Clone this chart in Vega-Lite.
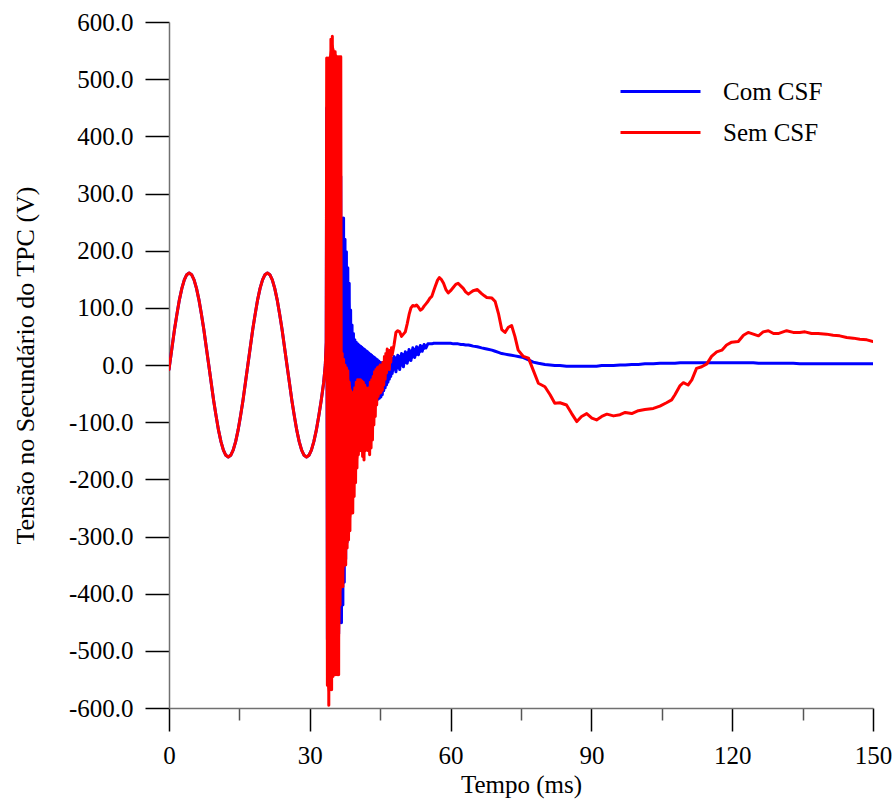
{
  "$schema": "https://vega.github.io/schema/vega-lite/v6.json",
  "autosize": {"type": "none"},
  "padding": {"left": 169, "top": 22, "right": 22, "bottom": 92},
  "width": 704,
  "height": 686,
  "background": "white",
  "config": {
    "view": {"stroke": null},
    "font": "Liberation Serif",
    "axis": {"labelFont": "Liberation Serif", "titleFont": "Liberation Serif", "labelFontSize": 25, "titleFontSize": 25, "titleFontWeight": "normal", "labelColor": "#000", "titleColor": "#000", "domainColor": "#707070", "domainWidth": 1.5, "tickWidth": 1.5, "grid": false, "labelPadding": 12},
    "legend": {"labelFont": "Liberation Serif"}
  },
  "datasets": {
    "curves": [
    {"t":0,"com":-8,"sem":-8},{"t":0.13,"com":0,"sem":0},{"t":0.65,"com":31,"sem":31},{"t":1.17,"com":62,"sem":62},{"t":1.69,"com":89,"sem":89},{"t":2.21,"com":114,"sem":114},{"t":2.74,"com":134,"sem":134},{"t":3.26,"com":149,"sem":149},{"t":3.78,"com":158,"sem":158},{"t":4.3,"com":161,"sem":161},{"t":4.82,"com":158,"sem":158},{"t":5.34,"com":149,"sem":149},{"t":5.86,"com":134,"sem":134},{"t":6.38,"com":114,"sem":114},{"t":6.9,"com":89,"sem":89},{"t":7.42,"com":62,"sem":62},{"t":7.94,"com":31,"sem":31},{"t":8.47,"com":0,"sem":0},{"t":8.99,"com":-31,"sem":-31},{"t":9.51,"com":-62,"sem":-62},{"t":10.03,"com":-89,"sem":-89},{"t":10.55,"com":-114,"sem":-114},{"t":11.07,"com":-134,"sem":-134},{"t":11.59,"com":-149,"sem":-149},{"t":12.11,"com":-158,"sem":-158},{"t":12.63,"com":-161,"sem":-161},{"t":13.15,"com":-158,"sem":-158},{"t":13.67,"com":-149,"sem":-149},{"t":14.2,"com":-134,"sem":-134},{"t":14.72,"com":-114,"sem":-114},{"t":15.24,"com":-89,"sem":-89},{"t":15.76,"com":-62,"sem":-62},{"t":16.28,"com":-31,"sem":-31},{"t":16.8,"com":0,"sem":0},{"t":17.32,"com":31,"sem":31},{"t":17.84,"com":62,"sem":62},{"t":18.36,"com":89,"sem":89},{"t":18.88,"com":114,"sem":114},{"t":19.4,"com":134,"sem":134},{"t":19.93,"com":149,"sem":149},{"t":20.45,"com":158,"sem":158},{"t":20.97,"com":161,"sem":161},{"t":21.49,"com":158,"sem":158},{"t":22.01,"com":149,"sem":149},{"t":22.53,"com":134,"sem":134},{"t":23.05,"com":114,"sem":114},{"t":23.57,"com":89,"sem":89},{"t":24.09,"com":62,"sem":62},{"t":24.61,"com":31,"sem":31},{"t":25.13,"com":0,"sem":0},{"t":25.66,"com":-31,"sem":-31},{"t":26.18,"com":-62,"sem":-62},{"t":26.7,"com":-89,"sem":-89},{"t":27.22,"com":-114,"sem":-114},{"t":27.74,"com":-134,"sem":-134},{"t":28.26,"com":-149,"sem":-149},{"t":28.78,"com":-158,"sem":-158},{"t":29.3,"com":-161,"sem":-161},{"t":29.82,"com":-158,"sem":-158},{"t":30.34,"com":-149,"sem":-149},{"t":30.86,"com":-134,"sem":-134},{"t":31.39,"com":-114,"sem":-114},{"t":31.91,"com":-89,"sem":-89},{"t":32.43,"com":-62,"sem":-62},{"t":32.95,"com":-31,"sem":-31},{"t":33.3,"com":0,"sem":0},{"t":33.5,"com":40,"sem":40},
    {"t":33.6,"com":450,"sem":537},{"t":33.75,"com":-480,"sem":-560},{"t":33.9,"com":450,"sem":537},{"t":34.05,"com":-500,"sem":-595},{"t":34.2,"com":450,"sem":537},{"t":34.35,"com":-490,"sem":-568},{"t":34.5,"com":460,"sem":570},{"t":34.65,"com":-490,"sem":-568},{"t":34.8,"com":460,"sem":575},{"t":34.95,"com":-480,"sem":-545},{"t":35.1,"com":450,"sem":548},{"t":35.25,"com":-480,"sem":-542},{"t":35.4,"com":450,"sem":548},{"t":35.55,"com":-480,"sem":-542},{"t":35.7,"com":440,"sem":539},{"t":35.85,"com":-470,"sem":-542},{"t":36.0,"com":420,"sem":539},{"t":36.15,"com":-470,"sem":-542},{"t":36.3,"com":380,"sem":539},{"t":36.45,"com":-451,"sem":-420},{"t":36.6,"com":330,"sem":539},{"t":36.75,"com":-451,"sem":-388},
    {"t":36.9,"com":257,"sem":20},{"t":37.05,"com":-420,"sem":-388},{"t":37.2,"com":257,"sem":10},{"t":37.35,"com":-380,"sem":-350},{"t":37.5,"com":220,"sem":0},{"t":37.65,"com":-340,"sem":-350},{"t":37.8,"com":198,"sem":-5},{"t":37.95,"com":-310,"sem":-320},{"t":38.1,"com":170,"sem":-10},{"t":38.25,"com":-290,"sem":-306},{"t":38.4,"com":143,"sem":-30},{"t":38.55,"com":-250,"sem":-290},{"t":38.7,"com":96,"sem":-45},{"t":38.85,"com":-200,"sem":-259},{"t":39.0,"com":70,"sem":-49},{"t":39.15,"com":-160,"sem":-259},{"t":39.3,"com":55,"sem":-50},{"t":39.45,"com":-130,"sem":-230},{"t":39.6,"com":44,"sem":-40},{"t":39.75,"com":-105,"sem":-206},{"t":39.9,"com":40,"sem":-30},{"t":40.05,"com":-99,"sem":-180},{"t":40.2,"com":37,"sem":-26},{"t":40.35,"com":-96,"sem":-157},{"t":40.5,"com":35,"sem":-26},{"t":40.65,"com":-100,"sem":-150},{"t":40.8,"com":33,"sem":-26},{"t":40.95,"com":-110,"sem":-150},{"t":41.1,"com":31,"sem":-28},{"t":41.25,"com":-125,"sem":-160},{"t":41.4,"com":29,"sem":-30},{"t":41.55,"com":-143,"sem":-166},{"t":41.7,"com":27,"sem":-35},{"t":41.85,"com":-140,"sem":-150},{"t":42.0,"com":25,"sem":-40},{"t":42.15,"com":-120,"sem":-137},{"t":42.3,"com":23,"sem":-45},{"t":42.45,"com":-105,"sem":-150},{"t":42.6,"com":21,"sem":-40},{"t":42.75,"com":-95,"sem":-157},{"t":42.9,"com":19,"sem":-30},{"t":43.05,"com":-88,"sem":-145},{"t":43.2,"com":17,"sem":-26},{"t":43.35,"com":-80,"sem":-131},{"t":43.5,"com":15,"sem":-20},{"t":43.65,"com":-72,"sem":-105},{"t":43.8,"com":13,"sem":-12},{"t":43.95,"com":-66,"sem":-90},{"t":44.1,"com":11,"sem":-8},{"t":44.25,"com":-62,"sem":-70},{"t":44.4,"com":9,"sem":-5},{"t":44.55,"com":-60,"sem":-55},{"t":44.7,"com":7,"sem":-3},{"t":44.85,"com":-58,"sem":-50},{"t":45.0,"com":5,"sem":0},{"t":45.15,"com":-56,"sem":-48},{"t":45.3,"com":4,"sem":0},{"t":45.45,"com":-52,"sem":-44},{"t":45.6,"com":4,"sem":5},{"t":45.75,"com":-45,"sem":-35},{"t":45.9,"com":5,"sem":15},{"t":46.05,"com":-40,"sem":-25},{"t":46.2,"com":6,"sem":20},{"t":46.35,"com":-35,"sem":-14},{"t":46.5,"com":7,"sem":28},{"t":46.65,"com":-30,"sem":-5},{"t":46.8,"com":9,"sem":22},{"t":46.95,"com":-25,"sem":-8},{"t":47.1,"com":10,"sem":26},{"t":47.25,"com":-20,"sem":5},{"t":47.4,"com":12,"sem":30},{"t":47.55,"com":-15,"sem":18},
    {"t":47.95,"com":15,"sem":35},{"t":48.35,"com":-12,"sem":57},{"t":48.75,"com":17,"sem":60},{"t":49.15,"com":-8,"sem":58},{"t":49.55,"com":20,"sem":50},{"t":49.95,"com":-3,"sem":54},{"t":50.35,"com":23,"sem":58},{"t":50.75,"com":3,"sem":72},{"t":51.15,"com":27,"sem":88},{"t":51.55,"com":8,"sem":100},{"t":51.95,"com":30,"sem":104},{"t":52.35,"com":13,"sem":103},{"t":52.75,"com":32,"sem":105},{"t":53.15,"com":18,"sem":101},{"t":53.55,"com":34,"sem":96},{"t":53.95,"com":24,"sem":98},{"t":54.35,"com":36,"sem":103},{"t":54.75,"com":30,"sem":107},{"t":55.15,"com":37,"sem":111},
    {"t":55.6,"com":37,"sem":117},{"t":56.0,"com":37,"sem":120},{"t":56.4,"com":38,"sem":130},{"t":56.7,"com":38,"sem":137},{"t":57.2,"com":38,"sem":148},{"t":57.6,"com":38,"sem":153},{"t":58.0,"com":38,"sem":150},{"t":58.5,"com":38,"sem":143},{"t":59.0,"com":38,"sem":132},{"t":59.5,"com":38,"sem":126},{"t":60.0,"com":38,"sem":130},{"t":60.6,"com":37,"sem":136},{"t":61.1,"com":37,"sem":141},{"t":61.6,"com":37,"sem":143},{"t":62.2,"com":36,"sem":138},{"t":62.7,"com":36,"sem":134},{"t":63.2,"com":35,"sem":128},{"t":63.8,"com":35,"sem":124},{"t":64.3,"com":34,"sem":127},{"t":64.8,"com":33,"sem":130},{"t":65.7,"com":32,"sem":132},{"t":66.6,"com":30,"sem":125},{"t":67.2,"com":29,"sem":121},{"t":67.7,"com":28,"sem":118},{"t":68.8,"com":26,"sem":117},{"t":69.5,"com":24,"sem":111},{"t":70.2,"com":22,"sem":90},{"t":70.9,"com":20,"sem":62},{"t":71.6,"com":19,"sem":57},{"t":72.3,"com":18,"sem":66},{"t":73.0,"com":17,"sem":69},{"t":73.7,"com":16,"sem":50},{"t":74.4,"com":15,"sem":26},{"t":75.5,"com":13,"sem":15},{"t":76.6,"com":9,"sem":12},{"t":77.6,"com":5,"sem":-9},{"t":78.7,"com":3,"sem":-32},{"t":80.1,"com":1,"sem":-38},{"t":81.2,"com":0,"sem":-52},{"t":82.2,"com":-1,"sem":-67},{"t":83.3,"com":-1,"sem":-66},{"t":84.7,"com":-2,"sem":-70},{"t":85.8,"com":-2,"sem":-85},{"t":86.9,"com":-2,"sem":-99},{"t":87.9,"com":-2,"sem":-90},{"t":89.0,"com":-2,"sem":-85},{"t":90.1,"com":-2,"sem":-93},{"t":91.1,"com":-2,"sem":-96},{"t":92.2,"com":-1,"sem":-90},{"t":93.3,"com":-1,"sem":-86},{"t":94.7,"com":-1,"sem":-89},{"t":96.1,"com":0,"sem":-87},{"t":97.2,"com":0,"sem":-83},{"t":98.6,"com":1,"sem":-85},{"t":100.0,"com":1,"sem":-80},{"t":101.4,"com":2,"sem":-78},{"t":103.2,"com":2,"sem":-76},{"t":104.6,"com":3,"sem":-72},{"t":106.0,"com":3,"sem":-66},{"t":107.1,"com":3,"sem":-61},{"t":107.8,"com":3,"sem":-52},{"t":108.9,"com":4,"sem":-36},{"t":109.6,"com":4,"sem":-31},{"t":110.6,"com":4,"sem":-35},{"t":111.4,"com":4,"sem":-26},{"t":112.4,"com":4,"sem":-6},{"t":113.5,"com":4,"sem":-3},{"t":114.6,"com":4,"sem":2},{"t":115.6,"com":4,"sem":15},{"t":116.7,"com":4,"sem":23},{"t":117.8,"com":4,"sem":26},{"t":118.8,"com":4,"sem":35},{"t":119.9,"com":4,"sem":40},{"t":121.3,"com":4,"sem":41},{"t":122.4,"com":4,"sem":52},{"t":123.4,"com":4,"sem":57},{"t":124.5,"com":4,"sem":54},{"t":125.6,"com":3,"sem":51},{"t":126.6,"com":3,"sem":58},{"t":127.7,"com":3,"sem":60},{"t":128.8,"com":3,"sem":55},{"t":129.8,"com":3,"sem":55},{"t":131.6,"com":3,"sem":60},{"t":133.0,"com":3,"sem":57},{"t":134.4,"com":2,"sem":57},{"t":135.5,"com":2,"sem":58},{"t":136.9,"com":2,"sem":55},{"t":138.3,"com":2,"sem":55},{"t":140.1,"com":2,"sem":54},{"t":141.5,"com":2,"sem":52},{"t":142.9,"com":2,"sem":51},{"t":144.4,"com":2,"sem":48},{"t":145.8,"com":2,"sem":47},{"t":147.2,"com":2,"sem":45},{"t":148.7,"com":2,"sem":44},{"t":150.0,"com":2,"sem":41}
    ],
    "bandCom": [
      {"t":33.6,"lo":-470,"hi":440},{"t":34.5,"lo":-480,"hi":450},{"t":35.5,"lo":-470,"hi":440},{"t":36.3,"lo":-450,"hi":370},{"t":36.6,"lo":-440,"hi":320},{"t":36.9,"lo":-410,"hi":250},{"t":37.2,"lo":-370,"hi":240},{"t":37.5,"lo":-330,"hi":210},{"t":37.8,"lo":-300,"hi":190},{"t":38.1,"lo":-280,"hi":160},{"t":38.4,"lo":-240,"hi":135},{"t":38.7,"lo":-195,"hi":90},{"t":39.0,"lo":-155,"hi":65},{"t":39.3,"lo":-125,"hi":50},{"t":39.6,"lo":-100,"hi":42},{"t":40.0,"lo":-95,"hi":37},{"t":40.5,"lo":-95,"hi":34},{"t":41.0,"lo":-108,"hi":31},{"t":41.5,"lo":-138,"hi":28},{"t":42.0,"lo":-118,"hi":24},{"t":42.5,"lo":-100,"hi":21},{"t":43.0,"lo":-86,"hi":18},{"t":43.5,"lo":-72,"hi":15},{"t":44.0,"lo":-64,"hi":12},{"t":44.5,"lo":-58,"hi":8},{"t":45.0,"lo":-54,"hi":5},{"t":45.5,"lo":-50,"hi":4},{"t":46.0,"lo":-39,"hi":5},{"t":46.5,"lo":-30,"hi":7},{"t":47.0,"lo":-22,"hi":9},{"t":47.5,"lo":-15,"hi":11},{"t":48.0,"lo":-10,"hi":14},{"t":49.0,"lo":-6,"hi":17},{"t":50.0,"lo":0,"hi":21},{"t":51.0,"lo":5,"hi":25},{"t":52.0,"lo":12,"hi":29},{"t":53.0,"lo":17,"hi":32},{"t":54.0,"lo":24,"hi":35},{"t":55.0,"lo":30,"hi":36}
    ],
    "bandSem": [
      {"t":33.6,"lo":-555,"hi":535},{"t":34.0,"lo":-580,"hi":535},{"t":34.5,"lo":-565,"hi":560},{"t":35.0,"lo":-540,"hi":560},{"t":35.5,"lo":-540,"hi":545},{"t":36.3,"lo":-540,"hi":537},{"t":36.6,"lo":-400,"hi":530},{"t":36.8,"lo":-388,"hi":15},{"t":37.5,"lo":-345,"hi":-2},{"t":38.0,"lo":-315,"hi":-7},{"t":38.5,"lo":-285,"hi":-30},{"t":39.0,"lo":-255,"hi":-47},{"t":39.5,"lo":-220,"hi":-42},{"t":40.0,"lo":-180,"hi":-30},{"t":40.5,"lo":-152,"hi":-27},{"t":41.0,"lo":-148,"hi":-27},{"t":41.5,"lo":-160,"hi":-32},{"t":42.0,"lo":-137,"hi":-40},{"t":42.5,"lo":-150,"hi":-42},{"t":43.0,"lo":-142,"hi":-28},{"t":43.5,"lo":-105,"hi":-18},{"t":44.0,"lo":-80,"hi":-8},{"t":44.5,"lo":-55,"hi":-4},{"t":45.0,"lo":-48,"hi":0},{"t":45.5,"lo":-40,"hi":4},{"t":46.0,"lo":-25,"hi":14},{"t":46.5,"lo":-6,"hi":24},{"t":47.0,"lo":0,"hi":22},{"t":47.4,"lo":15,"hi":28}
    ]
  },
  "layer": [
    {
      "data": {"name": "bandCom"},
      "mark": {"type": "area", "color": "#0000ff", "clip": true},
      "encoding": {
        "x": {"field": "t", "type": "quantitative", "title": "Tempo (ms)"},
        "y": {"field": "lo", "type": "quantitative", "title": "Tensão no Secundário do TPC (V)"},
        "y2": {"field": "hi"}
      }
    },
    {
      "data": {"name": "curves"},
      "transform": [{"fold": ["com", "sem"], "as": ["serie", "v"]}, {"filter": "datum.serie === 'com'"}],
      "mark": {"type": "line", "strokeWidth": 3, "strokeJoin": "round", "strokeCap": "round", "clip": true},
      "encoding": {
        "x": {"field": "t", "type": "quantitative", "scale": {"domain": [0, 150], "nice": false, "zero": false}, "title": "Tempo (ms)",
          "axis": {"title": "Tempo (ms)", "values": [0,15,30,45,60,75,90,105,120,135,150], "labelFont": "Liberation Serif", "titleFont": "Liberation Serif", "labelExpr": "datum.value % 30 === 0 ? datum.label : ''", "tickSize": {"condition": {"test": "datum.value % 30 === 0", "value": 23}, "value": 12}, "tickColor": {"condition": {"test": "datum.value % 30 === 0", "value": "#000"}, "value": "#555"}, "titlePadding": 4, "labelFlush": false, "labelOverlap": false}},
        "y": {"field": "v", "type": "quantitative", "scale": {"domain": [-600, 600], "nice": false}, "title": "Tensão no Secundário do TPC (V)",
          "axis": {"title": "Tensão no Secundário do TPC (V)", "titleFontSize": 26, "labelFont": "Liberation Serif", "titleFont": "Liberation Serif", "values": [-600,-550,-500,-450,-400,-350,-300,-250,-200,-150,-100,-50,0,50,100,150,200,250,300,350,400,450,500,550,600], "labelExpr": "datum.value % 100 === 0 ? replace(format(datum.value, '.1f'), '−', '-') : ''", "tickSize": {"condition": {"test": "datum.value % 100 === 0", "value": 24}, "value": 12}, "tickColor": {"condition": {"test": "datum.value % 100 === 0", "value": "#000"}, "value": "#555"}, "titlePadding": 30, "labelFlush": false, "labelOverlap": false}},
        "color": {"field": "serie", "type": "nominal", "scale": {"domain": ["com", "sem"], "range": ["#0000ff", "#ff0000"]},
          "legend": {"orient": "none", "legendX": 479, "legendY": 57, "title": null, "symbolType": "M-4,0H4", "symbolSize": 400, "symbolStrokeWidth": 3, "labelFont": "Liberation Serif", "labelFontSize": 25, "labelColor": "#000", "labelOffset": 50, "rowPadding": 15, "padding": 0, "labelExpr": "datum.value === 'com' ? 'Com CSF' : 'Sem CSF'"}}
      }
    },
    {
      "data": {"name": "bandSem"},
      "mark": {"type": "area", "color": "#ff0000", "clip": true},
      "encoding": {
        "x": {"field": "t", "type": "quantitative", "title": "Tempo (ms)"},
        "y": {"field": "lo", "type": "quantitative", "title": "Tensão no Secundário do TPC (V)"},
        "y2": {"field": "hi"}
      }
    },
    {
      "data": {"name": "curves"},
      "transform": [{"fold": ["com", "sem"], "as": ["serie", "v"]}, {"filter": "datum.serie === 'sem'"}],
      "mark": {"type": "line", "strokeWidth": 3, "strokeJoin": "round", "strokeCap": "round", "clip": true},
      "encoding": {
        "x": {"field": "t", "type": "quantitative", "title": "Tempo (ms)"},
        "y": {"field": "v", "type": "quantitative", "title": "Tensão no Secundário do TPC (V)"},
        "color": {"field": "serie", "type": "nominal"}
      }
    }
  ]
}
